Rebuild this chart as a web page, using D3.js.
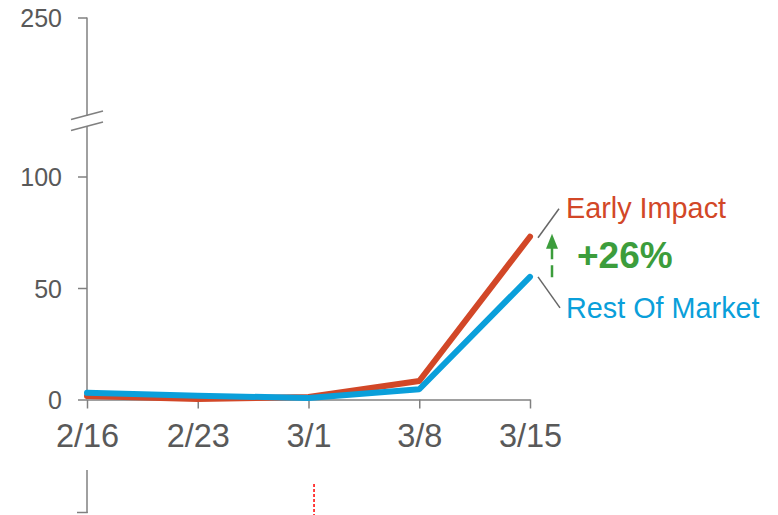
<!DOCTYPE html>
<html>
<head>
<meta charset="utf-8">
<script src="https://cdn.jsdelivr.net/npm/d3@7"></script>
<style>
  html, body { margin: 0; padding: 0; background: #fff; }
  svg { display: block; font-family: "Liberation Sans", Arial, sans-serif; }
</style>
</head>
<body>
<svg id="chart" width="778" height="515"></svg>
<script>
// Weekly series (index values)
const weeks = ["2/16", "2/23", "3/1", "3/8", "3/15"];
const earlyImpact = [1.6, 0.2, 1.1, 8.3, 73];
const restOfMarket = [3.0, 1.7, 0.7, 4.6, 55];
const lowerTicks = [0, 50, 100];
const upperTicks = [250];
const upliftLabel = "+26%";
const seriesNames = ["Early Impact", "Rest Of Market"];
const eventMarker = 2.05; // position (in week units) of the dashed event line

const colors = { early: "#D24727", rest: "#0A9FDA", axis: "#808080", text: "#595959", green: "#3C9D3C" };

const svg = d3.select("#chart");

const x = d3.scaleLinear().domain([0, weeks.length - 1]).range([87, 530]);
const y = d3.scaleLinear().domain([0, 100]).range([399.5, 176.5]);
const yTop = d3.scaleLinear().domain([200, 250]).range([129, 17.5]);

// Y axis: lower segment (0-100)
const yAxis = d3.axisLeft(y).tickValues(lowerTicks).tickSize(9).tickPadding(16);
const gY = svg.append("g").attr("transform", "translate(87,0)").call(yAxis);
gY.select(".domain").remove();
gY.append("line").attr("x1", 0).attr("x2", 0).attr("y1", 126).attr("y2", 399.5);

// Y axis: upper segment above the break
const yAxisTop = d3.axisLeft(yTop).tickValues(upperTicks).tickSize(9).tickPadding(16);
const gYT = svg.append("g").attr("transform", "translate(87,0)").call(yAxisTop);
gYT.select(".domain").remove();
gYT.append("line").attr("x1", 0).attr("x2", 0).attr("y1", 17.5).attr("y2", 116);

[gY, gYT].forEach(g => {
  g.selectAll("line").attr("stroke", colors.axis).attr("stroke-width", 1.5);
  g.selectAll("text").attr("fill", colors.text).style("font-size", "25px")
    .style("font-family", "'Liberation Sans', Arial, sans-serif").attr("dy", "0.36em");
});

// Axis break marks
const breakG = svg.append("g").attr("stroke", colors.axis).attr("stroke-width", 1.5);
breakG.append("line").attr("x1", 71).attr("y1", 119.5).attr("x2", 103).attr("y2", 111);
breakG.append("line").attr("x1", 71).attr("y1", 130.5).attr("x2", 103).attr("y2", 122);

// X axis
const xAxis = d3.axisBottom(x).tickValues(d3.range(weeks.length)).tickFormat(i => weeks[i])
  .tickSize(9).tickSizeOuter(0).tickPadding(15);
const gX = svg.append("g").attr("transform", "translate(0,399.5)").call(xAxis);
gX.select(".domain").attr("stroke", colors.axis).attr("stroke-width", 1.5);
gX.selectAll("line").attr("stroke", colors.axis).attr("stroke-width", 1.5);
gX.selectAll("text").attr("fill", colors.text).style("font-size", "32.5px")
  .style("font-family", "'Liberation Sans', Arial, sans-serif");

// Lower axis stub below the chart
const stub = svg.append("g").attr("stroke", colors.axis).attr("stroke-width", 1.5);
stub.append("line").attr("x1", 87).attr("x2", 87).attr("y1", 470).attr("y2", 513);
stub.append("line").attr("x1", 77).attr("x2", 87.7).attr("y1", 512.5).attr("y2", 512.5);

// Dashed event line
svg.append("line")
  .attr("x1", x(eventMarker)).attr("x2", x(eventMarker))
  .attr("y1", 484).attr("y2", 515)
  .attr("stroke", "#FF0000").attr("stroke-width", 1.5).attr("stroke-dasharray", "3,2");

// Series lines
const line = d3.line().x((d, i) => x(i)).y(d => y(d));
svg.append("path").datum(earlyImpact).attr("d", line)
  .attr("fill", "none").attr("stroke", colors.early).attr("stroke-width", 6)
  .attr("stroke-linecap", "round").attr("stroke-linejoin", "round");
svg.append("path").datum(restOfMarket).attr("d", line)
  .attr("fill", "none").attr("stroke", colors.rest).attr("stroke-width", 6)
  .attr("stroke-linecap", "round").attr("stroke-linejoin", "round");

// End labels with leader lines
const last = weeks.length - 1;
const xe = x(last);
const lead = svg.append("g").attr("stroke", "#666").attr("stroke-width", 1.5);
lead.append("line").attr("x1", xe + 8).attr("y1", y(earlyImpact[last]) + 1)
  .attr("x2", xe + 29).attr("y2", y(earlyImpact[last]) - 28);
lead.append("line").attr("x1", xe + 8).attr("y1", y(restOfMarket[last]))
  .attr("x2", xe + 30).attr("y2", y(restOfMarket[last]) + 31);

svg.append("text").attr("x", xe + 36).attr("y", y(earlyImpact[last]) - 19)
  .attr("fill", colors.early).style("font-size", "28.8px").text(seriesNames[0]);
svg.append("text").attr("x", xe + 36).attr("y", y(restOfMarket[last]) + 41)
  .attr("fill", colors.rest).style("font-size", "28.8px").text(seriesNames[1]);

// Uplift arrow between the two end points
const ax = xe + 22;
const yLow = y(restOfMarket[last]) + 0.5;
const yHigh = y(earlyImpact[last]) - 3;
svg.append("line").attr("x1", ax).attr("x2", ax).attr("y1", yLow).attr("y2", yHigh + 14)
  .attr("stroke", colors.green).attr("stroke-width", 2.5).attr("stroke-dasharray", "12,6");
svg.append("path")
  .attr("d", `M${ax},${yHigh} L${ax - 6},${yHigh + 15} L${ax + 6},${yHigh + 15} Z`)
  .attr("fill", colors.green);
svg.append("text").attr("x", xe + 47).attr("y", 268)
  .attr("fill", colors.green).style("font-size", "37px").style("font-weight", "bold")
  .text(upliftLabel);
</script>
</body>
</html>
